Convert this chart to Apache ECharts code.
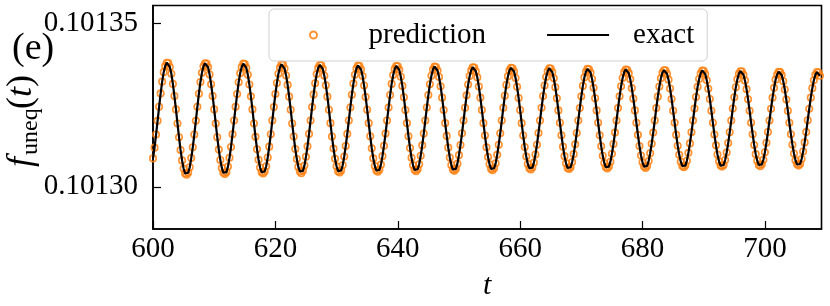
<!DOCTYPE html>
<html>
<head>
<meta charset="utf-8">
<script src="https://cdn.jsdelivr.net/npm/echarts@6/dist/echarts.min.js"></script>
<style>
  html, body { margin: 0; padding: 0; background: #fff; }
  #chart { width: 830px; height: 306px; }
</style>
</head>
<body>
<div id="chart"></div>
<script>
// sampling grid of the time axis
const T_START = 600;
const T_STEP = 0.25;

// f_uneq(t) values (prediction and exact coincide)
const fUneq = [
  0.1013087,0.1013120,0.1013160,0.1013202,0.1013245,0.1013286,0.1013322,0.1013351,0.1013370,0.1013380,0.1013379,0.1013367,0.1013346,0.1013315,0.1013278,0.1013237,0.1013194,0.1013152,0.1013113,0.1013081,0.1013056,0.1013041,0.1013037,0.1013043,0.1013060,
  0.1013088,0.1013121,0.1013160,0.1013202,0.1013245,0.1013285,0.1013321,0.1013349,0.1013369,0.1013378,0.1013377,0.1013366,0.1013344,0.1013314,0.1013278,0.1013237,0.1013194,0.1013152,0.1013114,0.1013082,0.1013058,0.1013043,0.1013039,0.1013045,0.1013062,
  0.1013089,0.1013122,0.1013161,0.1013203,0.1013245,0.1013284,0.1013320,0.1013348,0.1013367,0.1013377,0.1013376,0.1013364,0.1013343,0.1013313,0.1013277,0.1013237,0.1013194,0.1013153,0.1013115,0.1013083,0.1013059,0.1013045,0.1013041,0.1013047,0.1013063,
  0.1013090,0.1013123,0.1013161,0.1013203,0.1013244,0.1013284,0.1013318,0.1013346,0.1013365,0.1013375,0.1013374,0.1013362,0.1013341,0.1013312,0.1013276,0.1013236,0.1013194,0.1013154,0.1013116,0.1013085,0.1013061,0.1013047,0.1013042,0.1013049,0.1013065,
  0.1013092,0.1013124,0.1013162,0.1013203,0.1013244,0.1013283,0.1013317,0.1013345,0.1013364,0.1013373,0.1013372,0.1013361,0.1013340,0.1013311,0.1013276,0.1013236,0.1013195,0.1013154,0.1013117,0.1013086,0.1013063,0.1013048,0.1013044,0.1013050,0.1013066,
  0.1013093,0.1013125,0.1013162,0.1013203,0.1013243,0.1013282,0.1013316,0.1013343,0.1013362,0.1013371,0.1013370,0.1013359,0.1013339,0.1013310,0.1013275,0.1013236,0.1013195,0.1013155,0.1013118,0.1013087,0.1013064,0.1013050,0.1013046,0.1013052,0.1013068,
  0.1013094,0.1013126,0.1013163,0.1013203,0.1013243,0.1013281,0.1013315,0.1013342,0.1013361,0.1013370,0.1013369,0.1013358,0.1013337,0.1013309,0.1013274,0.1013235,0.1013195,0.1013155,0.1013119,0.1013089,0.1013066,0.1013052,0.1013048,0.1013054,0.1013069,
  0.1013095,0.1013127,0.1013163,0.1013203,0.1013243,0.1013281,0.1013314,0.1013340,0.1013359,0.1013368,0.1013367,0.1013356,0.1013336,0.1013308,0.1013273,0.1013235,0.1013195,0.1013156,0.1013120,0.1013090,0.1013067,0.1013053,0.1013049,0.1013055,0.1013071,
  0.1013097,0.1013128,0.1013164,0.1013203,0.1013242,0.1013280,0.1013313,0.1013339,0.1013357,0.1013366,0.1013365,0.1013354,0.1013335,0.1013307,0.1013273,0.1013235,0.1013195,0.1013157,0.1013121,0.1013091,0.1013069,0.1013055,0.1013051,0.1013057,0.1013072,
  0.1013098,0.1013129,0.1013164,0.1013203,0.1013242,0.1013279,0.1013312,0.1013338,0.1013356,0.1013364,0.1013363,0.1013353,0.1013333,0.1013306,0.1013272,0.1013235,0.1013195,0.1013157,0.1013122,0.1013093,0.1013070,0.1013057,0.1013053,0.1013059,0.1013074,
  0.1013099,0.1013129,0.1013165,0.1013203,0.1013242,0.1013278,0.1013310,0.1013336,0.1013354,0.1013363,0.1013362,0.1013351,0.1013332,0.1013305,0.1013271,0.1013234,0.1013196,0.1013158,0.1013123,0.1013094,0.1013072,0.1013058,0.1013055,0.1013060,0.1013076,
  0.1013100,0.1013130,0.1013165,0.1013203,0.1013241,0.1013277,0.1013309,0.1013335,0.1013352,0.1013361,0.1013360,0.1013350,0.1013330,0.1013303,0.1013271,0.1013234,0.1013196,0.1013158,0.1013124,0.1013095,0.1013073,0.1013060,0.1013056,0.1013062,0.1013077,
  0.1013101,0.1013131,0.1013166,0.1013203,0.1013241,0.1013277,0.1013308,0.1013333,0.1013351,0.1013359,0.1013358,0.1013348,0.1013329,0.1013302,0.1013270,0.1013234,0.1013196,0.1013159,0.1013125,0.1013096,0.1013075,0.1013062,0.1013058,0.1013064,0.1013079,
  0.1013103,0.1013132,0.1013166,0.1013203,0.1013241,0.1013276,0.1013307,0.1013332,0.1013349,0.1013357,0.1013357,0.1013346,0.1013328,0.1013301,0.1013269,0.1013233,0.1013196,0.1013159,0.1013126,0.1013098,0.1013077,0.1013064,0.1013060,0.1013065,0.1013080,
  0.1013104,0.1013133,0.1013167,0.1013203,0.1013240,0.1013275,0.1013306,0.1013330,0.1013347,0.1013356,0.1013355,0.1013345,0.1013326,0.1013300,0.1013269,0.1013233,0.1013196,0.1013160,0.1013127,0.1013099,0.1013078,0.1013065,0.1013062,0.1013067,0.1013082,
  0.1013105,0.1013134,0.1013167,0.1013203,0.1013240,0.1013274,0.1013305,0.1013329,0.1013346,0.1013354,0.1013353,0.1013343,0.1013325,0.1013299,0.1013268,0.1013233,0.1013196,0.1013161,0.1013128,0.1013100,0.1013080,0.1013067,0.1013063,0.1013069,0.1013083,
  0.1013106,0.1013135,0.1013168,0.1013203,0.1013239,0.1013273,0.1013303,0.1013328,0.1013344,0.1013352,0.1013351,0.1013342,0.1013323,0.1013298,0.1013267,0.1013233,0.1013196,0.1013161,0.1013129,0.1013102,0.1013081,0.1013069,0.1013065,0.1013070,0.1013085,
  0.1013108,0.1013136,0.1013168,0.1013204,0.1013239,0.1013273,0.1013302,0.1013326,0.1013343,0.1013351,0.1013350,0.1013340
];

const xTicks = [600, 620, 640, 660, 680, 700];
const yTicks = [0.10130, 0.10135];

const X_MIN = 600, X_MAX = 709.25;
const Y_MIN = 0.1012871, Y_MAX = 0.1013555;

const points = fUneq.map((v, i) => [T_START + i * T_STEP, v]);

const FONT = 'Liberation Serif';
const chart = echarts.init(document.getElementById('chart'), null, { renderer: 'canvas' });

function txt(s, x, y, size, italic) {
  return {
    type: 'text', x: x, y: y,
    style: {
      text: s, fill: '#000',
      font: (italic ? 'italic ' : '') + size + 'px "Liberation Serif"',
      align: 'left', verticalAlign: 'middle'
    }
  };
}

chart.setOption({
  animation: false,
  backgroundColor: '#fff',
  grid: {
    left: 153, right: 8.5, top: 5.5, bottom: 77,
    outerBoundsMode: 'none', containLabel: false,
    show: true, borderColor: '#000', borderWidth: 1.6, backgroundColor: 'transparent'
  },
  legend: {
    left: 269, top: 9,
    orient: 'horizontal',
    padding: [9, 13, 9, 40],
    itemGap: 60,
    itemWidth: 62,
    itemHeight: 7,
    backgroundColor: 'rgba(255,255,255,0.8)',
    borderColor: '#d0d0d0', borderWidth: 1, borderRadius: 5,
    textStyle: { fontFamily: FONT, fontSize: 29, color: '#000', lineHeight: 34, padding: [0, 0, 0, 19] },
    data: [
      { name: 'prediction', icon: 'circle' },
      { name: 'exact', itemStyle: { color: 'rgba(0,0,0,0)', borderColor: 'rgba(0,0,0,0)', borderWidth: 0 } }
    ]
  },
  xAxis: {
    type: 'value', min: X_MIN, max: X_MAX,
    axisLine: { show: true, lineStyle: { color: '#000', width: 1.6 } },
    axisTick: { show: true, inside: true, length: 8, lineStyle: { color: '#000', width: 1.2 }, customValues: xTicks },
    axisLabel: { customValues: xTicks, fontFamily: FONT, fontSize: 29, color: '#000', margin: 6 },
    splitLine: { show: false },
    name: 't', nameLocation: 'middle', nameGap: 42,
    nameTextStyle: { fontFamily: FONT, fontSize: 30, fontStyle: 'italic', color: '#000' }
  },
  yAxis: {
    type: 'value', min: Y_MIN, max: Y_MAX,
    axisLine: { show: true, lineStyle: { color: '#000', width: 1.6 } },
    axisTick: { show: true, inside: true, length: 8, lineStyle: { color: '#000', width: 1.2 }, customValues: yTicks },
    axisLabel: { customValues: yTicks, fontFamily: FONT, fontSize: 29, color: '#000', margin: 15,
      formatter: v => Number(v).toFixed(5) },
    splitLine: { show: false }
  },
  graphic: [
    {
      type: 'text', left: 12, top: 30,
      style: { text: '(e)', font: '38px "Liberation Serif"', fill: '#000' }
    },
    {
      type: 'group', x: 22, y: 121, rotation: Math.PI / 2,
      children: [
        txt('f', -46, 0, 36, true),
        txt('uneq', -34, 9, 24, false),
        txt('(', 12, 0, 36, false),
        txt('t', 24, 0, 36, true),
        txt(')', 34, 0, 36, false)
      ]
    }
  ],
  series: [
    {
      name: 'prediction', type: 'scatter', data: points,
      symbol: 'circle', symbolSize: 6.5,
      itemStyle: { color: 'rgba(255,127,14,0)', borderColor: '#ff7f0e', borderWidth: 1.6, opacity: 0.85 },
      z: 2
    },
    {
      name: 'exact', type: 'line', data: points,
      showSymbol: false, symbol: 'none',
      lineStyle: { color: '#000', width: 2.2 },
      itemStyle: { color: 'rgba(0,0,0,0)' },
      z: 3
    }
  ]
});
</script>
</body>
</html>
